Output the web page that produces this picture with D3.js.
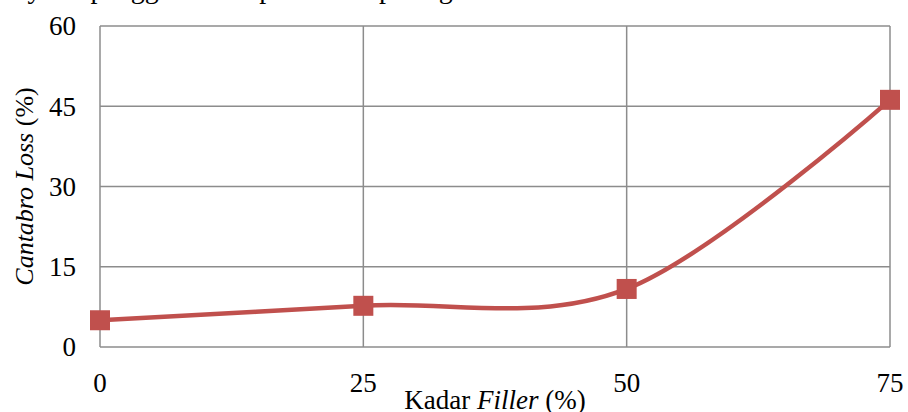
<!DOCTYPE html>
<html>
<head>
<meta charset="utf-8">
<script src="https://cdn.jsdelivr.net/npm/d3@7"></script>
<style>
  body { margin: 0; background: #fff; }
  text { font-family: "Liberation Serif", "Times New Roman", serif; fill: #000; }
</style>
</head>
<body>
<div id="chart"></div>
<script>
// data
const kadarFiller = [0, 25, 50, 75];
const cantabroLoss = [5.0, 7.7, 10.85, 46.2];
const yTicks = [0, 15, 30, 45, 60];
const xTicks = [0, 25, 50, 75];

const width = 908, height = 412;
const margin = { top: 26, right: 18, bottom: 65, left: 100 };

const svg = d3.select("#chart")
    .append("svg")
    .attr("width", width)
    .attr("height", height);

// cut-off line of body text above the chart (only its lower part shows)
svg.append("text")
    .attr("x", 8)
    .attr("y", -2)
    .style("font-size", "28px")
    .text("a yaitu penggunaan dapat dilihat pada gambar di dalam Gambar 5. Semakin dari");

let x = d3.scaleLinear().domain([0, 75]).range([margin.left, width - margin.right]);
let y = d3.scaleLinear().domain([0, 60]).range([height - margin.bottom, margin.top]);

// grid
svg.append("g")
    .selectAll("line.h")
    .data(yTicks)
    .join("line")
    .attr("x1", x(0)).attr("x2", x(75))
    .attr("y1", d => y(d)).attr("y2", d => y(d))
    .attr("stroke", "#8c8c8c").attr("stroke-width", 1.5);

svg.append("g")
    .selectAll("line.v")
    .data(xTicks)
    .join("line")
    .attr("x1", d => x(d)).attr("x2", d => x(d))
    .attr("y1", y(0)).attr("y2", y(60))
    .attr("stroke", "#8c8c8c").attr("stroke-width", 1.5);

// y tick labels
svg.append("g")
    .selectAll("text")
    .data(yTicks)
    .join("text")
    .attr("x", 76)
    .attr("y", d => y(d))
    .attr("dy", "0.35em")
    .attr("text-anchor", "end")
    .style("font-size", "27px")
    .text(d => d);

// x tick labels
svg.append("g")
    .selectAll("text")
    .data(xTicks)
    .join("text")
    .attr("x", d => x(d))
    .attr("y", 392)
    .attr("text-anchor", "middle")
    .style("font-size", "27px")
    .text(d => d);

// axis titles
let xt = svg.append("text")
    .attr("x", 495)
    .attr("y", 409)
    .attr("text-anchor", "middle")
    .style("font-size", "27px");
xt.append("tspan").text("Kadar ");
xt.append("tspan").style("font-style", "italic").text("Filler");
xt.append("tspan").text(" (%)");

let yt = svg.append("text")
    .attr("transform", "translate(33," + y(30) + ") rotate(-90)")
    .attr("text-anchor", "middle")
    .style("font-size", "26px");
yt.append("tspan").style("font-style", "italic").text("Cantabro Loss");
yt.append("tspan").text(" (%)");

// smoothed line like Excel
let pts = kadarFiller.map((d, i) => [d, cantabroLoss[i]]);
let line = d3.line()
    .x(d => x(d[0]))
    .y(d => y(d[1]))
    .curve(d3.curveCardinal.tension(0));

svg.append("path")
    .datum(pts)
    .attr("d", line)
    .attr("fill", "none")
    .attr("stroke", "#c0504d")
    .attr("stroke-width", 4.5);

// square markers
let s = 20;
svg.append("g")
    .selectAll("rect")
    .data(pts)
    .join("rect")
    .attr("x", d => x(d[0]) - s / 2)
    .attr("y", d => y(d[1]) - s / 2)
    .attr("width", s)
    .attr("height", s)
    .attr("fill", "#c0504d");
</script>
</body>
</html>
